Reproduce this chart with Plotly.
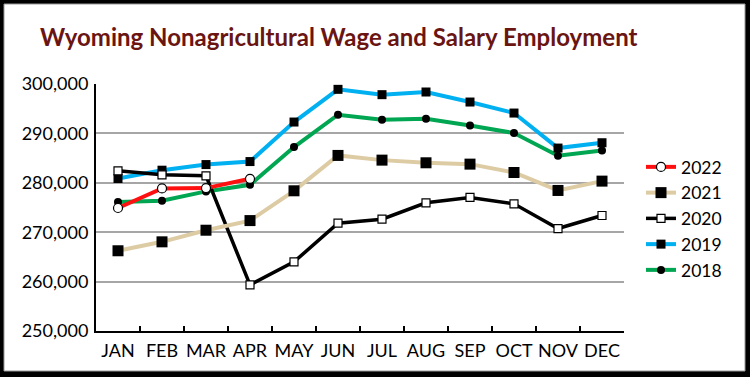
import plotly.graph_objects as go

months = ["JAN", "FEB", "MAR", "APR", "MAY", "JUN", "JUL", "AUG", "SEP", "OCT", "NOV", "DEC"]

y2022 = [274900, 278860, 278930, 280810]
y2021 = [266240, 268050, 270400, 272350, 278380, 285540, 284590, 284050, 283780, 282090, 278450, 280340]
y2020 = [282420, 281610, 281410, 259330, 263990, 271820, 272640, 275950, 277030, 275740, 270740, 273380]
y2019 = [280870, 282550, 283690, 284300, 292300, 298920, 297840, 298380, 296350, 294120, 287030, 288110]
y2018 = [276110, 276380, 278260, 279600, 287230, 293780, 292770, 292970, 291620, 290070, 285470, 286550]

yticks = [250000, 260000, 270000, 280000, 290000, 300000]
ytick_labels = ["250,000", "260,000", "270,000", "280,000", "290,000", "300,000"]

FONT = "Lato"

fig = go.Figure()

fig.add_trace(go.Scatter(
    x=months, y=y2018, name="2018", mode="lines+markers",
    line=dict(color="#00A651", width=4),
    marker=dict(symbol="circle", size=8, color="black", line=dict(width=0)),
))
fig.add_trace(go.Scatter(
    x=months, y=y2019, name="2019", mode="lines+markers",
    line=dict(color="#00B0F0", width=4),
    marker=dict(symbol="square", size=9, color="black", line=dict(width=0)),
))
fig.add_trace(go.Scatter(
    x=months, y=y2020, name="2020", mode="lines+markers",
    line=dict(color="black", width=3.5),
    marker=dict(symbol="square", size=8, color="white", line=dict(width=1.2, color="black")),
))
fig.add_trace(go.Scatter(
    x=months, y=y2021, name="2021", mode="lines+markers",
    line=dict(color="#DDCBA4", width=4),
    marker=dict(symbol="square", size=11, color="black", line=dict(width=0)),
))
fig.add_trace(go.Scatter(
    x=months[:len(y2022)], y=y2022, name="2022", mode="lines+markers",
    line=dict(color="#FF1010", width=4),
    marker=dict(symbol="circle", size=9, color="white", line=dict(width=1.2, color="black")),
))

W, H = 750, 377
L, R, T, B = 96, 126, 84, 46
pw, ph = W - L - R, H - T - B

def px_x(px):
    return (px - L) / pw

def px_y(py):
    return (H - B - py) / ph

fig.add_shape(
    type="rect", xref="paper", yref="paper", layer="below",
    x0=px_x(4), x1=px_x(745), y0=px_y(371), y1=px_y(4),
    fillcolor="white", line=dict(color="#999999", width=1),
)

fig.update_layout(
    width=W, height=H,
    margin=dict(l=L, r=R, t=T, b=B, autoexpand=False),
    paper_bgcolor="black",
    plot_bgcolor="white",
    font=dict(family=FONT, color="black", size=18),
    title=dict(
        text="<b>Wyoming Nonagricultural Wage and Salary Employment</b>",
        font=dict(family=FONT, size=24, color="#6A1511"),
        xref="container", yref="container",
        x=40 / W, xanchor="left", y=1 - 38 / H, yanchor="middle",
    ),
    showlegend=True,
    legend=dict(
        x=px_x(641), xanchor="left", y=px_y(149), yanchor="top",
        traceorder="reversed", bgcolor="rgba(0,0,0,0)",
        font=dict(family=FONT, size=17.5, color="black"),
    ),
    xaxis=dict(
        type="category", categoryorder="array", categoryarray=months,
        range=[-0.5, 11.5], automargin=False, tickangle=0,
        showline=True, linecolor="black", linewidth=2,
        ticks="inside", tickson="boundaries", ticklen=5, tickwidth=1.5, tickcolor="black",
        showgrid=False, tickfont=dict(size=18), ticklabelstandoff=2,
        fixedrange=True,
    ),
    yaxis=dict(
        range=[250000, 300000], automargin=False,
        tickvals=yticks, ticktext=ytick_labels,
        showline=True, linecolor="black", linewidth=2,
        showgrid=True, gridcolor="#A6A6A6", gridwidth=1.5,
        zeroline=False, ticks="", tickfont=dict(size=18), ticklabelstandoff=2,
        fixedrange=True,
    ),
)

fig.update_traces(cliponaxis=False)

fig.write_html(
    "out.html",
    config={"displayModeBar": False, "staticPlot": False},
    post_script="document.body.style.margin='0';",
)
